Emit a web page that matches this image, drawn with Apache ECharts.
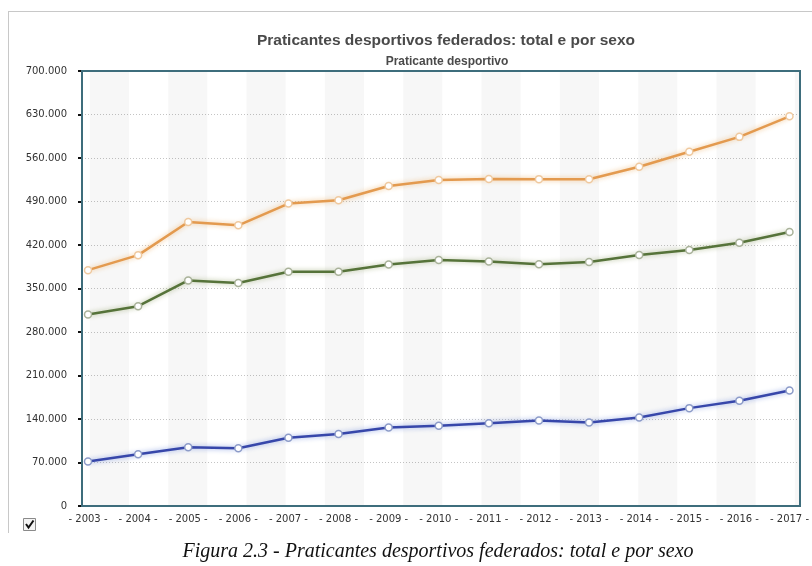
<!DOCTYPE html>
<html>
<head>
<meta charset="utf-8">
<script src="https://cdn.jsdelivr.net/npm/echarts@6/dist/echarts.min.js"></script>
<style>
html,body{margin:0;padding:0;background:#fff;}
#chart{width:812px;height:566px;}
</style>
</head>
<body>
<div id="chart"></div>
<script>
// ---- data ----
const years = ['2003','2004','2005','2006','2007','2008','2009','2010','2011','2012','2013','2014','2015','2016','2017'];
const total = [379500, 403700, 457000, 451600, 486600, 492000, 515000, 524700, 526300, 526000, 525800, 546000, 570000, 594000, 627000];
const male = [308000, 321500, 363000, 359000, 377000, 377000, 388700, 395700, 393500, 389000, 392500, 404000, 411800, 423700, 440900];
const female = [71500, 83300, 94600, 93000, 109700, 116000, 126300, 129000, 133300, 137600, 134400, 142500, 157500, 169400, 186000];
const yMin = 0, yMax = 700000, yStep = 70000;
const titleText = 'Praticantes desportivos federados: total e por sexo';
const subtitleText = 'Praticante desportivo';
const captionText = 'Figura 2.3 - Praticantes desportivos federados: total e por sexo';

const chart = echarts.init(document.getElementById('chart'), null, {renderer: 'canvas'});

const G = 'rgba(0,0,0,0.03)', W = 'rgba(255,255,255,0)';
const stripeColors = [W, G, G, G, G, G, W, W, W, W];

function fmtY(v) {
  if (v === 0) return '0';
  return Math.round(v / 1000) + '.000';
}

function lineSeries(name, data, color, glow, markerBorder) {
  return {
    name: name, type: 'line', data: data,
    xAxisIndex: 0, yAxisIndex: 0,
    symbol: 'circle', symbolSize: 7, showSymbol: true,
    lineStyle: {color: color, width: 2.5, shadowColor: glow, shadowBlur: 5},
    itemStyle: {color: '#ffffff', borderColor: markerBorder, borderWidth: 1.5},
    z: 3
  };
}

const option = {
  animation: false,
  backgroundColor: '#ffffff',
  title: [
    {text: titleText, left: 441, top: 28, textAlign: 'center',
     textStyle: {fontFamily: 'Liberation Sans', fontWeight: 'bold', fontSize: 15.5, color: '#4a4a4a'}},
    {text: subtitleText, left: 442, top: 51, textAlign: 'center',
     textStyle: {fontFamily: 'Liberation Sans', fontWeight: 'bold', fontSize: 12, color: '#4a4a4a'}},
    {text: captionText, left: 433, top: 537, textAlign: 'center',
     textStyle: {fontFamily: 'Liberation Serif', fontStyle: 'italic', fontWeight: 'normal', fontSize: 20, color: '#111'}}
  ],
  grid: [
    {left: 88, right: 18, top: 71, bottom: 60, containLabel: false},
    {left: 82, right: 12, top: 71, bottom: 60, show: true, backgroundColor: '#ffffff', borderWidth: 0},
    {left: 82, right: 12, top: 71, bottom: 60, show: true, backgroundColor: 'rgba(0,0,0,0)', borderColor: '#3e6d7c', borderWidth: 2, z: 4}
  ],
  xAxis: [
    {type: 'category', gridIndex: 0, data: years, boundaryGap: false,
     axisLine: {show: false}, axisTick: {show: false}, splitLine: {show: false},
     axisLabel: {margin: 8, color: '#333', fontFamily: 'DejaVu Sans', fontSize: 10, interval: 0,
                 formatter: v => '- ' + v + ' -'}},
    {type: 'value', gridIndex: 1, min: 0, max: 91.66, interval: 1,
     axisLine: {show: false}, axisTick: {show: false}, axisLabel: {show: false}, splitLine: {show: false},
     splitArea: {show: true, areaStyle: {color: stripeColors}}},
    {type: 'value', gridIndex: 2, min: 0, max: 1, show: false}
  ],
  yAxis: [
    {type: 'value', gridIndex: 0, min: yMin, max: yMax, interval: yStep, show: false},
    {type: 'value', gridIndex: 1, min: yMin, max: yMax, interval: yStep, offset: 9,
     axisLine: {show: true, lineStyle: {color: '#111', width: 2}},
     axisTick: {show: true, inside: false, length: 4, lineStyle: {color: '#111', width: 2}},
     axisLabel: {margin: 6, color: '#333', fontFamily: 'DejaVu Sans', fontSize: 10, formatter: fmtY},
     splitLine: {show: true, lineStyle: {color: '#c4c4c4', type: [1, 2], width: 1}},
     splitArea: {show: false}},
    {type: 'value', gridIndex: 2, min: 0, max: 1, show: false}
  ],
  series: [
    lineSeries('Total', total, '#e39a4f', 'rgba(240,190,130,0.9)', '#efc99f'),
    lineSeries('Homens', male, '#56733a', 'rgba(160,175,125,0.8)', '#a9b29a'),
    lineSeries('Mulheres', female, '#3747aa', 'rgba(130,155,225,0.85)', '#8c9bc8')
  ],
  graphic: [
    {type: 'line', shape: {x1: 8, y1: 11.5, x2: 812, y2: 11.5}, style: {stroke: '#c8c8c8', lineWidth: 1}, silent: true},
    {type: 'line', shape: {x1: 8.5, y1: 11, x2: 8.5, y2: 533}, style: {stroke: '#c8c8c8', lineWidth: 1}, silent: true},
    {type: 'rect', shape: {x: 23.5, y: 518.5, width: 12, height: 12}, style: {fill: '#f4f4f4', stroke: '#8a8a8a', lineWidth: 1}, silent: true},
    {type: 'polyline', shape: {points: [[26, 524], [28.5, 527.5], [33.5, 520.5]]}, style: {stroke: '#111', lineWidth: 2, fill: null}, silent: true}
  ]
};

chart.setOption(option);
</script>
</body>
</html>
